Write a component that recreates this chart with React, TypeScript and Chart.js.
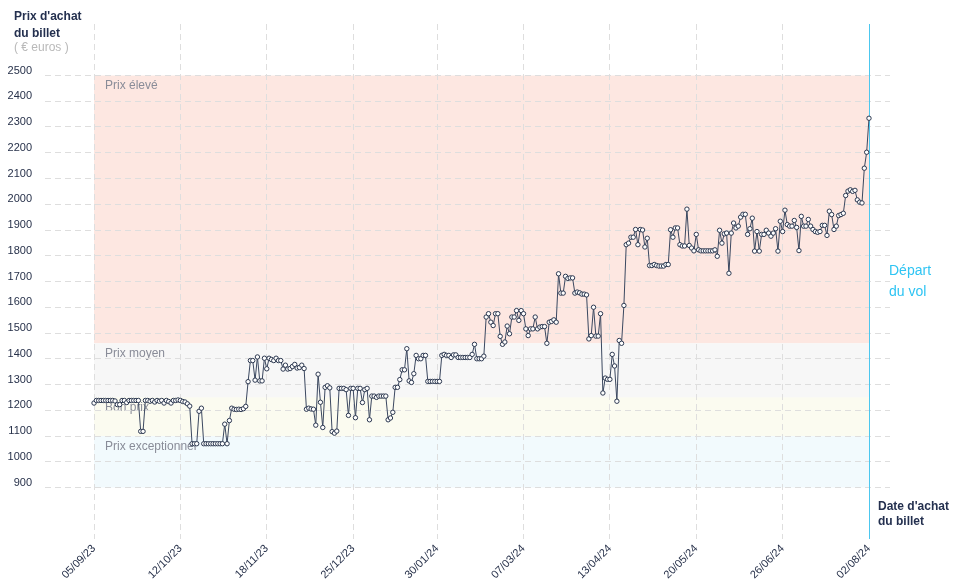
import React, { useEffect, useRef } from 'react';
import Chart from 'chart.js/auto';

Chart.defaults.font.family = '"Liberation Sans", Arial, sans-serif';

// purchase dates shown on the x axis (day index counted from 05/09/23)
const tickLabels = ['05/09/23', '12/10/23', '18/11/23', '25/12/23', '30/01/24', '07/03/24', '13/04/24', '20/05/24', '26/06/24', '02/08/24'];
const tickDays = [0, 37, 74, 111, 147, 184, 221, 258, 295, 332];
const priceTicks = [900, 1000, 1100, 1200, 1300, 1400, 1500, 1600, 1700, 1800, 1900, 2000, 2100, 2200, 2300, 2400, 2500];

// daily ticket price (€), one array per period between two axis dates
const period1 = [
  1228, 1238, 1238, 1238, 1238, 1238, 1238, 1238, 1238, 1236,
  1222, 1222, 1238, 1238, 1230, 1238, 1238, 1238, 1238, 1238,
  1118, 1118, 1238, 1238, 1235, 1238, 1232, 1238, 1235, 1238,
  1228, 1238, 1234, 1228, 1238, 1238, 1240,
];
const period2 = [
  1238, 1234, 1232, 1225, 1216, 1070, 1070, 1070, 1196, 1208,
  1070, 1070, 1070, 1070, 1070, 1070, 1070, 1070, 1070, 1146,
  1070, 1160, 1208, 1204, 1203, 1204, 1203, 1206, 1215, 1311,
  1393, 1393, 1317, 1407, 1314, 1314, 1402,
];
const period3 = [
  1361, 1402, 1397, 1393, 1402, 1393, 1393, 1360, 1375, 1360,
  1362, 1370, 1378, 1364, 1366, 1375, 1362, 1204, 1208, 1205,
  1204, 1142, 1340, 1231, 1133, 1289, 1295, 1287, 1117, 1111,
  1119, 1285, 1285, 1285, 1280, 1180, 1285,
];
const period4 = [
  1285, 1171, 1285, 1285, 1230, 1280, 1285, 1163, 1255, 1255,
  1250, 1255, 1255, 1255, 1255, 1163, 1170, 1192, 1289, 1289,
  1319, 1357, 1357, 1439, 1314, 1308, 1342, 1413, 1400, 1400,
  1413, 1413, 1312, 1312, 1312, 1312,
];
const period5 = [
  1312, 1312, 1413, 1417, 1413, 1413, 1405, 1415, 1415, 1405,
  1405, 1405, 1405, 1405, 1405, 1417, 1456, 1400, 1400, 1400,
  1410, 1562, 1575, 1542, 1529, 1575, 1575, 1487, 1456, 1465,
  1527, 1497, 1562, 1562, 1587, 1549, 1587,
];
const period6 = [
  1575, 1516, 1490, 1516, 1516, 1562, 1516, 1523, 1525, 1525,
  1460, 1542, 1545, 1551, 1542, 1730, 1655, 1655, 1720, 1712,
  1714, 1714, 1655, 1659, 1656, 1651, 1651, 1648, 1477, 1490,
  1600, 1488, 1488, 1575, 1267, 1325, 1320,
];
const period7 = [
  1320, 1417, 1372, 1235, 1471, 1460, 1607, 1843, 1849, 1872,
  1872, 1902, 1843, 1902, 1900, 1834, 1868, 1762, 1762, 1766,
  1762, 1760, 1760, 1760, 1766, 1766, 1901, 1872, 1908, 1908,
  1843, 1838, 1838, 1981, 1840, 1830, 1819,
];
const period8 = [
  1883, 1823, 1819, 1819, 1819, 1819, 1819, 1819, 1823, 1798,
  1899, 1849, 1885, 1888, 1732, 1888, 1927, 1908, 1915, 1950,
  1961, 1961, 1883, 1905, 1946, 1818, 1894, 1818, 1883, 1883,
  1899, 1888, 1876, 1888, 1905, 1818, 1934,
];
const period9 = [
  1894, 1977, 1921, 1915, 1915, 1937, 1910, 1820, 1953, 1915,
  1915, 1941, 1915, 1902, 1894, 1891, 1894, 1918, 1918, 1879,
  1973, 1960, 1902, 1915, 1956, 1960, 1965, 2034, 2051, 2056,
  2050, 2054, 2017, 2008, 2005, 2140, 2202, 2334,
];
const prices = [...period1, ...period2, ...period3, ...period4, ...period5, ...period6, ...period7, ...period8, ...period9];

// price zones
const bandNames = ['Prix élevé', 'Prix moyen', 'Bon prix', 'Prix exceptionner'];
const bandFrom = [1460, 1250, 1100, 900];
const bandTo = [2500, 1460, 1250, 1100];
const bandColors = ['#fde7e1', '#f7f7f7', '#fbfbf0', '#f2fafd'];

const dark = '#27314a';
const gridColor = '#dedede';

const zonesPlugin = {
  id: 'zones',
  beforeDraw(chart: any) {
    const { ctx, scales: { x, y } } = chart;
    const left = x.getPixelForValue(0);
    const right = x.getPixelForValue(prices.length - 1);
    ctx.save();
    bandNames.forEach((_, i) => {
      const top = y.getPixelForValue(bandTo[i]);
      const bottom = y.getPixelForValue(bandFrom[i]);
      ctx.fillStyle = bandColors[i];
      ctx.fillRect(left, top, right - left, bottom - top);
    });
    ctx.font = '12px "Liberation Sans", Arial, sans-serif';
    ctx.fillStyle = '#898c98';
    ctx.textBaseline = 'middle';
    bandNames.forEach((name, i) => {
      ctx.fillText(name, left + 11, y.getPixelForValue(bandTo[i]) + 10.5);
    });
    ctx.restore();
  },
  beforeDatasetsDraw(chart: any) {
    // departure day line
    const { ctx, chartArea, scales: { x } } = chart;
    const px = Math.round(x.getPixelForValue(prices.length - 1)) + 0.5;
    ctx.save();
    ctx.strokeStyle = '#4cc7ef';
    ctx.lineWidth = 1;
    ctx.beginPath();
    ctx.moveTo(px, chartArea.top);
    ctx.lineTo(px, chartArea.bottom);
    ctx.stroke();
    ctx.restore();
  },
};

const App: React.FC = () => {
  const chartRef = useRef<HTMLCanvasElement | null>(null);

  useEffect(() => {
    if (!chartRef.current) return;
    const chart = new Chart(chartRef.current, {
      type: 'line',
      data: {
        datasets: [
          {
            data: prices.map((p, i) => ({ x: i, y: p })),
            borderColor: '#3b4860',
            borderWidth: 1,
            pointRadius: 2.2,
            pointBorderWidth: 1,
            pointBackgroundColor: '#ffffff',
            pointBorderColor: '#2c3850',
            tension: 0,
          },
        ],
      },
      options: {
        animation: false,
        responsive: true,
        maintainAspectRatio: false,
        layout: { padding: { top: 24, right: 68, bottom: 0, left: 0 } },
        plugins: {
          legend: { display: false },
          tooltip: { enabled: false },
        },
        scales: {
          x: {
            type: 'linear',
            min: -21,
            max: 341,
            afterBuildTicks: (axis: any) => {
              axis.ticks = tickDays.map((v) => ({ value: v }));
            },
            afterFit: (axis: any) => {
              axis.height = 46;
            },
            ticks: {
              autoSkip: false,
              minRotation: 45,
              maxRotation: 45,
              padding: 3,
              color: dark,
              font: { size: 11 },
              callback: (value: any) => tickLabels[tickDays.indexOf(Number(value))],
            },
            grid: {
              color: (c: any) => (c.index === tickDays.length - 1 ? 'rgba(0,0,0,0)' : gridColor),
              lineWidth: 1,
              drawTicks: false,
            },
            border: { display: false, dash: [6, 4] },
          },
          y: {
            min: 700,
            max: 2700,
            afterBuildTicks: (axis: any) => {
              axis.ticks = priceTicks.map((v) => ({ value: v }));
            },
            afterFit: (axis: any) => {
              axis.width = 45;
            },
            ticks: {
              padding: 13,
              labelOffset: -5,
              color: dark,
              font: { size: 11 },
              callback: (value: any) => String(value),
            },
            grid: { color: gridColor, lineWidth: 1, drawTicks: false },
            border: { display: false, dash: [6, 4] },
          },
        },
      },
      plugins: [zonesPlugin],
    } as any);

    return () => {
      chart.destroy();
    };
  }, []);

  return (
    <div style={{ position: 'fixed', left: 0, top: 0, width: 958, height: 585, background: '#fff', fontFamily: '"Liberation Sans", Arial, sans-serif' }}>
      <canvas ref={chartRef} />
      <div style={{ position: 'absolute', left: 14, top: 8, fontSize: 12, fontWeight: 'bold', lineHeight: '17px', color: '#24304f' }}>
        Prix d'achat
        <br />
        du billet
      </div>
      <div style={{ position: 'absolute', left: 14, top: 40, fontSize: 12, lineHeight: '14px', color: '#b9b9b9' }}>( € euros )</div>
      <div style={{ position: 'absolute', left: 889, top: 260, fontSize: 14, lineHeight: '21px', color: '#2ec4f3' }}>
        Départ
        <br />
        du vol
      </div>
      <div style={{ position: 'absolute', left: 878, top: 499, fontSize: 12, fontWeight: 'bold', lineHeight: '15px', color: '#24304f' }}>
        Date d'achat
        <br />
        du billet
      </div>
    </div>
  );
};

export default App;
